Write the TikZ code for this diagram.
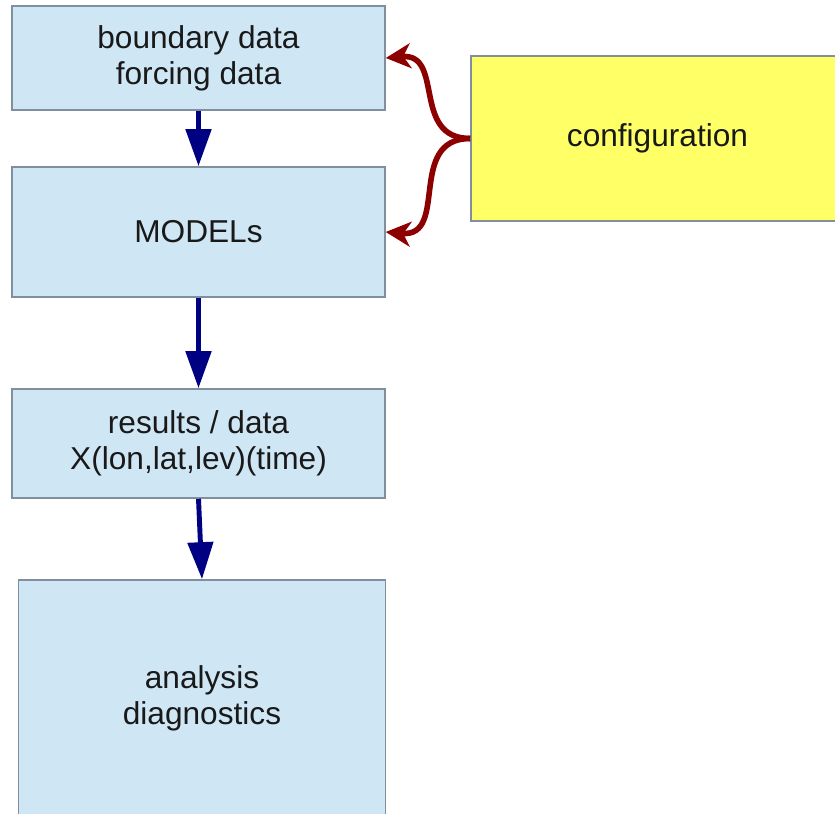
\documentclass[tikz,border=0pt]{standalone}
\usepackage{fontspec}
\setmainfont{Liberation Sans}
\usepackage{tikz}
\usetikzlibrary{positioning, arrows.meta}
\definecolor{boxblue}{RGB}{207,230,244}
\definecolor{boxline}{RGB}{128,142,158}
\definecolor{cfgyellow}{RGB}{255,255,102}
\definecolor{flownavy}{RGB}{0,0,130}
\definecolor{cfgred}{RGB}{140,0,0}
\tikzstyle{stage} = [rectangle,
minimum width=7.46cm,
text centered,
align=center,
line width=0.9pt,
draw=boxline,
fill=boxblue,
text=black!90,
font=\fontsize{18}{20.5}\selectfont]
\tikzstyle{config} = [rectangle,
minimum width=7.46cm,
minimum height=3.3cm,
text centered,
line width=0.9pt,
draw=boxline,
fill=cfgyellow,
text=black!90,
font=\fontsize{18}{20.5}\selectfont]
\tikzstyle{arrow} = [line width=2.8pt, draw=flownavy, -{Triangle[width=0.5cm,length=0.74cm]}]
\tikzstyle{cfgarrow} = [line width=3.2pt, draw=cfgred, -{Stealth[width=0.5cm,length=0.5cm,inset=0.15cm]}]
\begin{document}
\begin{tikzpicture}[node distance=2cm]
\useasboundingbox (0,0) rectangle (16.7,-16.28);

\node (bnd) [stage, minimum height=2.08cm] at (3.97,-1.16) {boundary data\\forcing data};

\node (models) [stage, minimum height=2.6cm, node distance=3.48cm, below of=bnd] {MODELs};

\node (res) [stage, minimum height=2.18cm, node distance=4.23cm, below of=models] {results / data\\X(lon,lat,lev)(time)};

\node (ana) [stage, minimum width=7.34cm, minimum height=4.72cm, node distance=5.09cm, below of=res, xshift=0.07cm] {analysis\\diagnostics};

\node (cfg) [config, node distance=9.18cm, right of=bnd, yshift=-1.61cm] {configuration};

\draw [arrow] (bnd) -- (models);
\draw [arrow] (models) -- (res);
\draw [arrow] (res.south) -- (ana.north);
\draw [cfgarrow] (cfg.west) to[out=180, in=5, looseness=1.3] (bnd.east);
\draw [cfgarrow] (cfg.west) to[out=180, in=-5, looseness=1.3] (models.east);

\end{tikzpicture}
\end{document}
